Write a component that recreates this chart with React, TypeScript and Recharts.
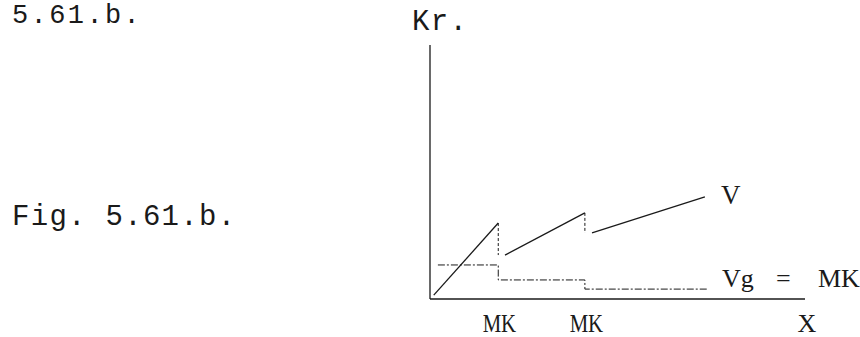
import { LineChart, Line, XAxis, YAxis } from 'recharts';

// V: three rising pieces, each cut back at an MK point
const vX = [0.1, 1.82, 2.0, 4.13, 4.32, 7.33];
const vY = [0.15, 2.99, 1.73, 3.39, 2.6, 4.02];

// Vg = MK: stepping down at each MK
const vgX = [0.21, 1.82, 1.82, 4.13, 4.13, 7.41];
const vgY = [1.34, 1.34, 0.75, 0.75, 0.39, 0.39];

const xTicks = [1.85, 4.17, 10.05];
const xTickLabels = ['MK', 'MK', 'X'];

const INK = '#1a1a1a';
const typewriter = '"Liberation Mono", "DejaVu Sans Mono", monospace';
const serif = '"Liberation Serif", "DejaVu Serif", serif';

const pts = (xs: number[], ys: number[]) => xs.map((x, i) => ({ x, y: ys[i] }));

const vAll = pts(vX, vY);
const vPieces = [vAll.slice(0, 2), vAll.slice(2, 4), vAll.slice(4, 6)];
// dashed drops from the end of one piece down to the start level of the next
const vDrops = [
  [vAll[1], { x: vAll[1].x, y: vAll[2].y }],
  [vAll[3], { x: vAll[3].x, y: vAll[4].y }],
];
const vgLine = pts(vgX, vgY);

function XTick(props: any) {
  const { x, y, index } = props;
  const narrow = xTickLabels[index] === 'MK';
  return (
    <text
      x={0}
      y={0}
      transform={`translate(${x}, ${y + 25}) scale(${narrow ? 0.8 : 1}, 1)`}
      textAnchor="middle"
      fontFamily={serif}
      fontSize={26}
      fill={INK}
    >
      {xTickLabels[index]}
    </text>
  );
}

const abs = (left: number, top: number, family: string, size: number): React.CSSProperties => ({
  position: 'absolute',
  left,
  top,
  fontFamily: family,
  fontSize: size,
  color: INK,
  whiteSpace: 'pre',
  lineHeight: 1,
});

export default function App() {
  return (
    <div style={{ position: 'absolute', left: 0, top: 0, width: 860, height: 337, background: '#fff', overflow: 'hidden' }}>
      <div style={{ ...abs(12, 3, typewriter, 27), letterSpacing: 2.4 }}>5.61.b.</div>
      <div style={{ ...abs(12, 203, typewriter, 29), letterSpacing: 1.3 }}>Fig. 5.61.b.</div>
      <div style={{ ...abs(412, 8, typewriter, 29), letterSpacing: 1.3 }}>Kr.</div>
      <div style={abs(721, 182, serif, 27)}>V</div>
      <div style={abs(722, 266, serif, 26)}>Vg</div>
      <div style={abs(776, 266, serif, 26)}>=</div>
      <div style={abs(818, 266, serif, 26)}>MK</div>

      <LineChart
        width={860}
        height={337}
        margin={{ top: 45, right: 55, bottom: 0, left: 400 }}
        style={{ position: 'absolute', left: 0, top: 0 }}
      >
        <XAxis
          type="number"
          dataKey="x"
          domain={[0, 10]}
          allowDataOverflow
          height={38}
          ticks={xTicks}
          tick={<XTick />}
          tickLine={false}
          interval={0}
          axisLine={{ stroke: INK, strokeWidth: 1.3 }}
        />
        <YAxis
          type="number"
          dataKey="y"
          domain={[0, 10]}
          allowDataOverflow
          width={30}
          tick={false}
          tickLine={false}
          axisLine={{ stroke: INK, strokeWidth: 1.3 }}
        />
        {vPieces.map((seg, i) => (
          <Line
            key={`v${i}`}
            data={seg}
            dataKey="y"
            type="linear"
            stroke={INK}
            strokeWidth={1.3}
            dot={false}
            activeDot={false}
            isAnimationActive={false}
          />
        ))}
        {vDrops.map((seg, i) => (
          <Line
            key={`d${i}`}
            data={seg}
            dataKey="y"
            type="linear"
            stroke={INK}
            strokeWidth={1}
            strokeDasharray="3 2"
            dot={false}
            activeDot={false}
            isAnimationActive={false}
          />
        ))}
        <Line
          data={vgLine}
          dataKey="y"
          type="linear"
          stroke={INK}
          strokeWidth={1}
          strokeDasharray="7 2 2 2"
          dot={false}
          activeDot={false}
          isAnimationActive={false}
        />
      </LineChart>
    </div>
  );
}
